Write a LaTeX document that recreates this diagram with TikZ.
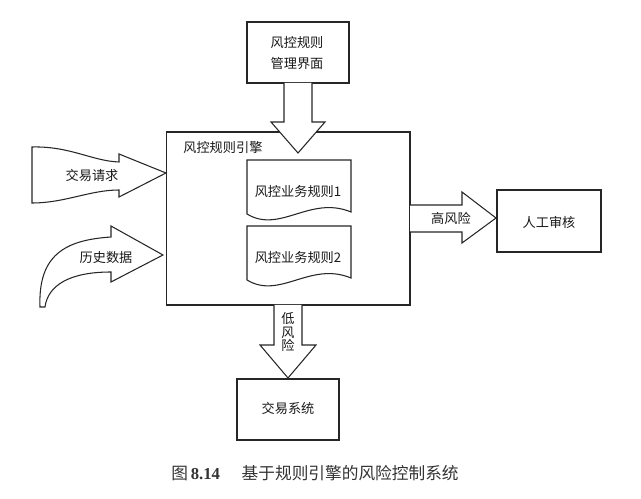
\documentclass[tikz,border=0pt]{standalone}
\usepackage{fontspec}
\setmainfont{Liberation Serif}
\newfontfamily\cjk{Noto Sans CJK SC}
\usetikzlibrary{calc}
\begin{document}
\begin{tikzpicture}[x=0.02cm,y=-0.02cm, line width=0.6pt,
  box/.style={draw=black!85, fill=white, inner sep=0pt},
  lbl/.style={font=\cjk\fontsize{7.5}{9.5}\selectfont, text=black!90, align=center},
  barrow/.style={draw=black!85, fill=white, line join=miter},
  doc/.style={draw=black!85, fill=white}]
\useasboundingbox (0,0) rectangle (641,499);

% boxes
\node[box, minimum width=2.04cm, minimum height=1.22cm] (ui) at (298,52.5) {};
\node[lbl, inner sep=0pt] (uilbl) at (297,53) {风控规则\\[2pt]管理界面};
\node[box, minimum width=4.88cm, minimum height=3.46cm] (engine) at (288,218.5) {};
\node[lbl, anchor=west] (englbl) at (177,147) {风控规则引擎};
\node[box, minimum width=2.08cm, minimum height=1.24cm] (review) at (549,221) {};
\node[lbl] (reviewlbl) at (549,222) {人工审核};
\node[box, minimum width=2.04cm, minimum height=1.22cm] (trade) at (288,409.5) {};
\node[lbl] (tradelbl) at (288,408) {交易系统};

% documents
\draw[doc] (247,160) -- (351,160) -- (351,212) .. controls (310,195) and (280,234) .. (247,214) -- cycle;
\node[lbl] (rule1) at (298,191) {风控业务规则1};
\draw[doc] (247,226) -- (351,226) -- (351,278) .. controls (310,261) and (280,300) .. (247,280) -- cycle;
\node[lbl] (rule2) at (298,257) {风控业务规则2};

% top arrow: ui -> engine
\draw[barrow] (284,83) -- (284,122) -- (271,122) -- (298,153) -- (325,122) -- (312,122) -- (312,83);

% request arrow
\draw[barrow] (32,147) .. controls (70,146) and (92,161) .. (119,162) -- (119,154) -- (166,173) -- (119,197) -- (119,190)
  .. controls (90,190) and (65,203) .. (32,203) -- cycle;
\node[lbl] (req) at (92,175) {交易请求};

% history arrow
\draw[barrow] (40,307) .. controls (38,255) and (65,240) .. (111,237) -- (111,226) -- (163,255) -- (111,282) -- (111,272)
  .. controls (70,272) and (48,285) .. (45,307) -- cycle;
\node[lbl] (hist) at (106,258) {历史数据};

% high risk arrow
\draw[barrow] (410,205) -- (462,205) -- (462,192) -- (496,218) -- (462,243) -- (462,232) -- (410,232);
\node[lbl] (high) at (451,218) {高风险};

% low risk arrow
\draw[barrow] (274,305) -- (274,345) -- (260,345) -- (288,378) -- (316,345) -- (302,345) -- (302,305);
\node[lbl, font=\cjk\fontsize{7.5}{7.7}\selectfont] (low) at (288,332) {低\\风\\险};

% caption
\node[font=\fontsize{9.5}{11}\selectfont, text=black!80] (cap) at (315,473)
  {{\cjk 图}\,\textbf{8.14}\hspace{1.3em}{\cjk 基于规则引擎的风险控制系统}};
\end{tikzpicture}
\end{document}
